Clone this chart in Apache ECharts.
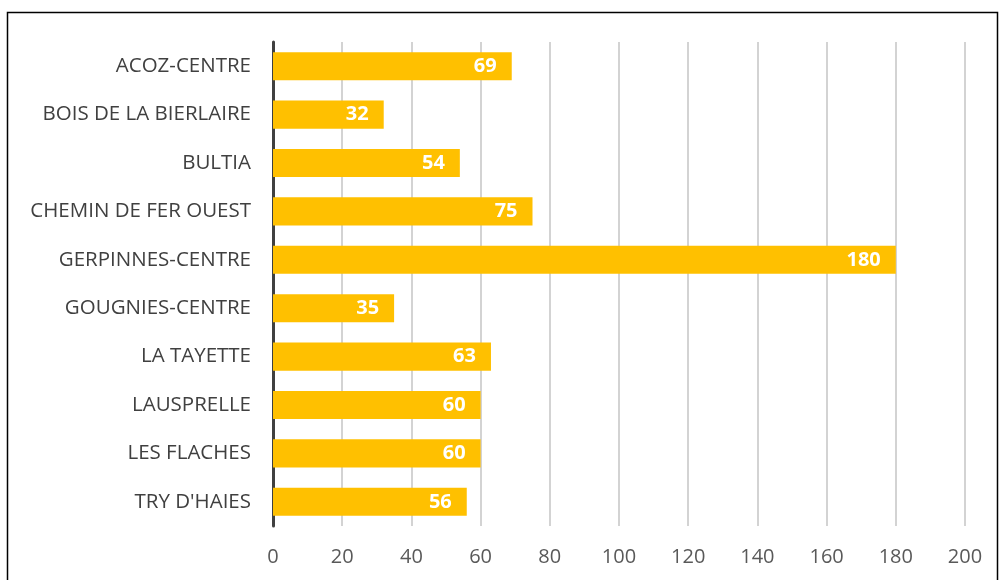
<!DOCTYPE html>
<html><head><meta charset="utf-8">
<script src="https://cdn.jsdelivr.net/npm/echarts@6/dist/echarts.min.js"></script>
<style>html,body{margin:0;padding:0;background:#fff}#c{width:999px;height:580px}</style>
</head><body><div id="c"></div>
<script>
const categories = ["ACOZ-CENTRE","BOIS DE LA BIERLAIRE","BULTIA","CHEMIN DE FER OUEST","GERPINNES-CENTRE","GOUGNIES-CENTRE","LA TAYETTE","LAUSPRELLE","LES FLACHES","TRY D'HAIES"];
const values = [69,32,54,75,180,35,63,60,60,56];
const chart = echarts.init(document.getElementById('c'));
chart.setOption({
  animation:false,
  graphic:[{type:'rect',shape:{x:7.5,y:12.5,width:990,height:600},style:{fill:'none',stroke:'#000',lineWidth:1.5}}],
  grid:{left:273,right:34,top:42,bottom:54},
  xAxis:{type:'value',min:0,max:200,interval:20,
    axisLine:{show:false},axisTick:{show:false},
    splitLine:{lineStyle:{color:'#c4c4c4',width:1.5}},
    axisLabel:{color:'#595959',fontSize:20,fontFamily:'Open Sans',margin:21}},
  yAxis:{type:'category',data:categories,inverse:true,
    axisLine:{lineStyle:{color:'#404040',width:3}},axisTick:{show:false},
    axisLabel:{color:'#404040',fontSize:20.5,fontFamily:'Open Sans',margin:22}},
  series:[{type:'bar',data:values,barCategoryGap:'42%',itemStyle:{color:'#FFC000'},
    label:{show:true,position:'insideRight',color:'#fff',fontWeight:'bold',fontSize:20,fontFamily:'Open Sans',distance:15}}]
});
</script></body></html>
